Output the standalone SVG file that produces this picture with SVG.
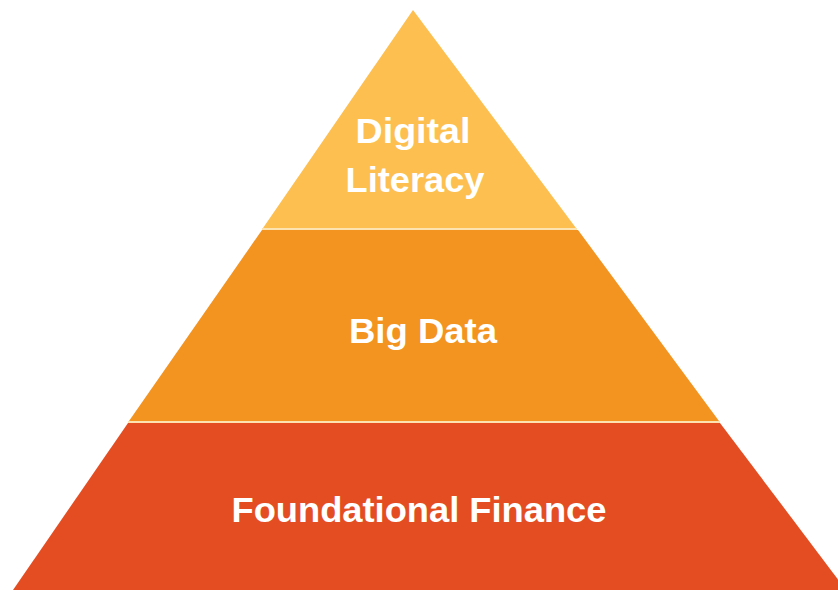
<svg xmlns="http://www.w3.org/2000/svg" width="838" height="590" viewBox="0 0 838 590">
<style>
.lbl{font-family:"Liberation Sans",Arial,sans-serif;font-weight:bold;font-size:35px;fill:#ffffff;text-anchor:middle}
.sep{stroke:#FDE3B0;stroke-width:2}
</style>
<rect width="838" height="590" fill="#ffffff"/>
<g id="top">
<polygon points="413,10 576,228 263,228" fill="#FDBF4F"/>
<text class="lbl" x="413" y="143" textLength="115" lengthAdjust="spacingAndGlyphs">Digital</text>
<text class="lbl" x="415" y="192" textLength="139" lengthAdjust="spacingAndGlyphs">Literacy</text>
</g>
<g id="middle">
<polygon points="262,230 578,230 719,421 129,421" fill="#F39320"/>
<text class="lbl" x="423" y="343" textLength="148" lengthAdjust="spacingAndGlyphs">Big Data</text>
</g>
<g id="bottom">
<polygon points="128,423 720,423 846,590 13,590" fill="#E44D22"/>
<text class="lbl" x="419" y="522" textLength="375" lengthAdjust="spacingAndGlyphs">Foundational Finance</text>
</g>
<g id="connectors">
<line class="sep" x1="262" y1="229" x2="577" y2="229"/>
<line class="sep" x1="128" y1="422" x2="720" y2="422"/>
</g>
</svg>
